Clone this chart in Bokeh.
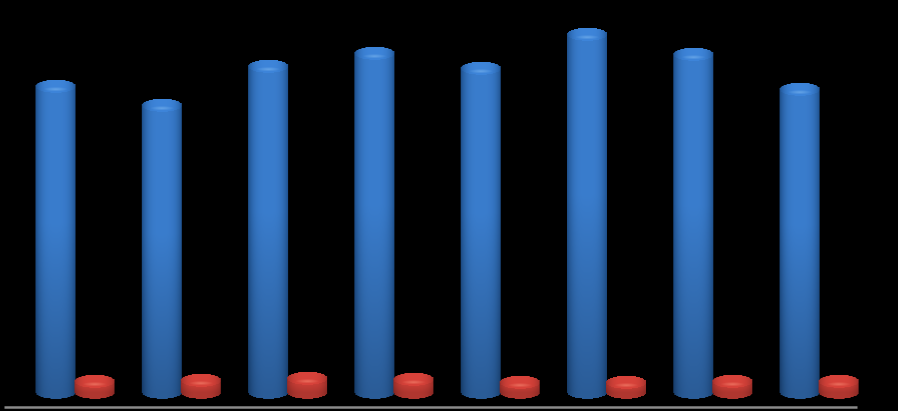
import numpy as np
from bokeh.plotting import figure
from bokeh.embed import file_html
from bokeh.resources import INLINE
from bokeh.models import Range1d

positions = [0, 1, 2, 3, 4, 5, 6, 7]
blue_values = [306, 287, 326, 339, 324, 358, 338, 303]
red_values = [11, 12, 14, 13, 10, 10, 11, 11]

W, H = 898, 411
PITCH = 106.3
p = figure(width=W, height=H, output_backend="svg", toolbar_location=None,
           x_range=Range1d(-55 / PITCH, (W - 55) / PITCH), y_range=Range1d(-19, 392),
           min_border=0, background_fill_color="black", border_fill_color="black",
           outline_line_color=None)
p.axis.visible = False
p.grid.visible = False

def cylinder(value, rx, ry, edge, mid, highlight, dark_bottom, lift):
    SS = 2
    w = int(2 * rx * SS)
    h = int((value + 2 * ry) * SS)
    xs = (np.arange(w) + .5) / SS - rx
    ys = (np.arange(h) + .5) / SS - ry          # height above base centre
    X, Y = np.meshgrid(xs, ys)
    t = X / rx
    s = np.clip(np.abs(t), 0, 1)
    shade = (1 - s ** 3.5)[..., None]
    e, m = np.array(edge, float), np.array(mid, float)
    side = e + (m - e) * shade
    v = np.clip(Y / max(value, 1), 0, 1)[..., None]
    body = side * (dark_bottom + (1 - dark_bottom) * np.clip(v * 1.8, 0, 1))
    root = np.sqrt(np.clip(1 - t ** 2, 0, 1))
    inside = (np.abs(t) <= 1) & (Y >= -ry * root) & (Y <= value + ry * root)
    in_cap = (np.abs(t) <= 1) & (np.abs(Y - value) <= ry * root)
    hl = np.array(highlight, float)
    d = np.sqrt((X / (rx * .6)) ** 2 + ((Y - value + ry * .45) / (ry * .35)) ** 2)
    g = np.clip(1 - d, 0, 1)[..., None] * .75
    capbase = np.clip(side * lift, 0, 255)
    capcol = capbase + (hl - capbase) * g
    rgb = np.where(in_cap[..., None], capcol, body)
    img = np.zeros((h, w), dtype=np.uint32)
    view = img.view(np.uint8).reshape((h, w, 4))
    view[..., :3] = np.clip(rgb, 0, 255).astype(np.uint8)
    view[..., 3] = np.where(inside, 255, 0)
    return img

blue_rx, blue_ry = 20, 6.5
red_rx, red_ry = 20, 6.5

for i, val in zip(positions, blue_values):
    img = cylinder(val, blue_rx, blue_ry, (30, 80, 140), (58, 125, 205),
                   (115, 175, 235), .74, 1.06)
    p.image_rgba(image=[img], x=i - blue_rx / PITCH, y=-blue_ry,
                 dw=2 * blue_rx / PITCH, dh=val + 2 * blue_ry)
for i, val in zip(positions, red_values):
    img = cylinder(val, red_rx, red_ry, (150, 45, 40), (200, 62, 54),
                   (240, 125, 105), .88, 1.08)
    p.image_rgba(image=[img], x=i + 39 / PITCH - red_rx / PITCH, y=-red_ry,
                 dw=2 * red_rx / PITCH, dh=val + 2 * red_ry)

p.segment(x0=[-51 / PITCH], y0=[-15], x1=[802 / PITCH], y1=[-15],
          line_color="#8a8a8a", line_width=2.5)

html = file_html(p, INLINE).replace(
    "<head>", "<head><style>html,body{margin:0;background:#000;overflow:hidden}</style>", 1)
open("out.html", "w").write(html)
